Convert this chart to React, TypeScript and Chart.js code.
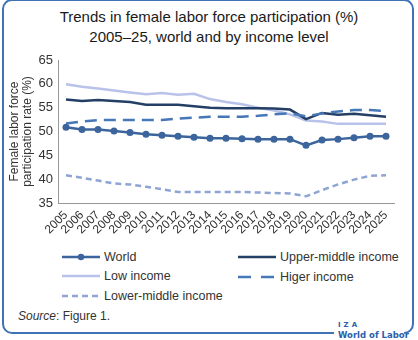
import React, { useEffect, useRef } from "react";
import { Chart, registerables } from "chart.js";

Chart.register(...registerables);

const years = ["2005","2006","2007","2008","2009","2010","2011","2012","2013","2014","2015","2016","2017","2018","2019","2020","2021","2022","2023","2024","2025"];
const world = [50.9,50.4,50.4,50.1,49.8,49.4,49.2,49.0,48.8,48.6,48.6,48.5,48.4,48.4,48.4,47.1,48.2,48.4,48.7,49.0,49.0];
const upperMiddle = [56.7,56.4,56.6,56.4,56.2,55.6,55.6,55.6,55.3,55.0,54.9,54.9,54.9,54.8,54.6,52.6,53.9,53.5,53.7,53.4,53.1];
const lowIncome = [59.9,59.4,59.0,58.6,58.2,57.8,58.1,57.7,57.9,56.8,56.2,55.7,55.0,54.4,53.6,52.3,52.1,51.6,51.6,51.6,51.6];
const higherIncome = [51.7,52.1,52.4,52.4,52.4,52.4,52.4,52.7,52.9,53.1,53.1,53.1,53.3,53.6,53.8,53.2,53.8,54.2,54.5,54.5,54.3];
const lowerMiddle = [40.8,40.3,39.7,39.1,38.9,38.4,37.9,37.3,37.3,37.3,37.3,37.3,37.2,37.1,37.0,36.4,37.7,38.9,39.9,40.7,40.8];

const yTitle = ["Female labor force", "participation rate (%)"];

const C_WORLD = "#3b659c";
const C_UPPER = "#243f66";
const C_LOW = "#b9c2e8";
const C_HIGH = "#4677b6";
const C_LOWER = "#8ea4d4";

const FONT = "'Liberation Sans', Arial, sans-serif";

function LegendItem({ x, y, color, dash, dot, label }: any) {
  return (
    <div style={{ position: "absolute", left: x, top: y - 10, height: 20, display: "flex", alignItems: "center" }}>
      <svg width={38} height={10} style={{ display: "block" }}>
        <line x1={0} y1={5} x2={38} y2={5} stroke={color} strokeWidth={2.5} strokeDasharray={dash || undefined} />
        {dot ? <circle cx={19} cy={5} r={3.2} fill={color} /> : null}
      </svg>
      <span style={{ marginLeft: 4, fontSize: 12.5, color: "#333", fontFamily: FONT, whiteSpace: "nowrap" }}>{label}</span>
    </div>
  );
}

export default function App() {
  const ref = useRef<HTMLCanvasElement>(null);
  useEffect(() => {
    if (!ref.current) return;
    const chart = new Chart(ref.current, {
      type: "line",
      data: {
        labels: years,
        datasets: [
          { label: "World", data: world, borderColor: C_WORLD, backgroundColor: C_WORLD, borderWidth: 2.5, pointRadius: 3.5, pointBackgroundColor: C_WORLD, pointBorderWidth: 0, order: 0 },
          { label: "Upper-middle income", data: upperMiddle, borderColor: C_UPPER, borderWidth: 2.5, pointRadius: 0, order: 2 },
          { label: "Low income", data: lowIncome, borderColor: C_LOW, borderWidth: 2.5, pointRadius: 0, order: 4 },
          { label: "Higer income", data: higherIncome, borderColor: C_HIGH, borderWidth: 2.5, borderDash: [12, 7], pointRadius: 0, order: 1 },
          { label: "Lower-middle income", data: lowerMiddle, borderColor: C_LOWER, borderWidth: 2.5, borderDash: [6, 4], pointRadius: 0, order: 3 },
        ],
      },
      options: {
        animation: false,
        responsive: false,
        maintainAspectRatio: false,
        layout: { padding: { top: 20, right: 24, left: 0, bottom: 0 } },
        plugins: { legend: { display: false }, tooltip: { enabled: false }, title: { display: false } },
        elements: { line: { tension: 0 } },
        scales: {
          x: {
            type: "category",
            offset: true,
            grid: { display: false, drawTicks: true, tickLength: 4, color: "#999" },
            border: { display: true, color: "#999", width: 1 },
            ticks: { color: "#333", font: { family: FONT, size: 12 }, minRotation: 45, maxRotation: 45, padding: 1, autoSkip: false },
            afterFit: (s: any) => { s.height = 42; },
          },
          y: {
            min: 35,
            max: 65,
            grid: { display: false, drawTicks: true, tickLength: 3, color: "#999" },
            border: { display: true, color: "#999", width: 1 },
            ticks: { stepSize: 5, color: "#333", font: { family: FONT, size: 13 }, padding: 2 },
            title: { display: true, text: yTitle, color: "#333", font: { family: FONT, size: 12, lineHeight: 1.05 }, padding: { top: 8.5, bottom: 0 } },
            afterFit: (s: any) => { s.width = 58; },
          },
        },
      },
    });
    return () => chart.destroy();
  }, []);

  return (
    <div style={{ position: "absolute", left: 0, top: 0, width: 418, height: 340, background: "#fff", overflow: "hidden", fontFamily: FONT }}>
      <div style={{ position: "absolute", left: 2, top: -1, width: 408, height: 331, border: "2px solid #3f73b5", borderRadius: 10 }} />
      <div style={{ position: "absolute", left: 0, top: 7, width: 418, textAlign: "center", fontSize: 15, lineHeight: "20px", color: "#1a1a1a" }}>
        Trends in female labor force participation (%)<br />2005–25, world and by income level
      </div>
      <canvas ref={ref} width={418} height={205} style={{ position: "absolute", left: 0, top: 40, width: 418, height: 205 }} />
      <LegendItem x={62} y={257} color={C_WORLD} dot label="World" />
      <LegendItem x={62} y={276} color={C_LOW} label="Low income" />
      <LegendItem x={62} y={296} color={C_LOWER} dash="6 4" label="Lower-middle income" />
      <LegendItem x={238} y={257} color={C_UPPER} label="Upper-middle income" />
      <LegendItem x={238} y={277} color={C_HIGH} dash="13 10" label="Higer income" />
      <div style={{ position: "absolute", left: 18, top: 309, fontSize: 12, color: "#333" }}>
        <i>Source</i>: Figure 1.
      </div>
      <div style={{ position: "absolute", left: 334, top: 321, width: 70, height: 19, background: "#fff", color: "#2a5ea8", fontWeight: "bold", fontFamily: "'DejaVu Sans', sans-serif" }}>
        <div style={{ position: "absolute", left: 4, top: 0, fontSize: 7, letterSpacing: 3, lineHeight: "9px" }}>IZA</div>
        <div style={{ position: "absolute", left: 4, top: 9, fontSize: 8.5, lineHeight: "10px", whiteSpace: "nowrap" }}>World of Labor</div>
      </div>
    </div>
  );
}
